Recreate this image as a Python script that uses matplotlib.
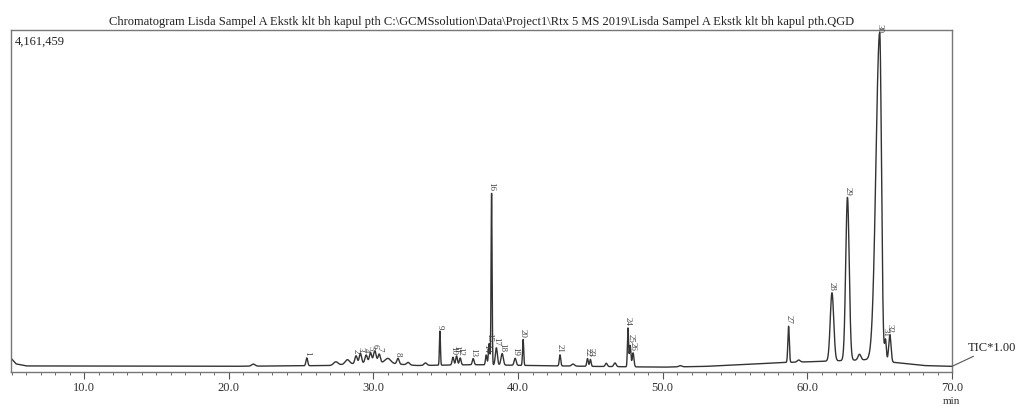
import numpy as np
import matplotlib
matplotlib.use('Agg')
import matplotlib.pyplot as plt
from matplotlib.ticker import MultipleLocator

plt.rcParams['font.family'] = ['Liberation Serif', 'DejaVu Serif']

# ── Peak table (min, counts above baseline, width) ──
Y_MAX = 4161459
PEAK_NO = list(range(1, 33))
PEAK_RT = [25.4, 28.8, 29.1, 29.5, 29.8, 30.1, 30.4, 31.7,
           34.6, 35.5, 35.75, 36.0, 36.9, 37.8, 38.0, 38.17,
           38.5, 38.9, 39.8, 40.35, 42.9, 44.8, 45.0, 47.6,
           47.75, 47.95, 58.7, 61.7, 62.77, 65.0, 65.4, 65.7]
PEAK_H = [95e3, 95e3, 120e3, 95e3, 120e3, 140e3, 105e3, 70e3,
          415e3, 95e3, 110e3, 85e3, 75e3, 120e3, 260e3, 2090e3,
          210e3, 140e3, 85e3, 315e3, 135e3, 95e3, 85e3, 470e3,
          260e3, 170e3, 440e3, 830e3, 1985e3, 4000e3, 260e3, 330e3]
# left / right half widths (min)
PEAK_WL = [0.06, 0.08, 0.08, 0.08, 0.08, 0.09, 0.08, 0.08,
           0.035, 0.06, 0.06, 0.06, 0.06, 0.05, 0.05, 0.035,
           0.07, 0.08, 0.07, 0.04, 0.05, 0.05, 0.05, 0.04,
           0.05, 0.06, 0.05, 0.12, 0.12, 0.26, 0.06, 0.08]
PEAK_WR = [0.06, 0.08, 0.08, 0.08, 0.08, 0.09, 0.08, 0.08,
           0.035, 0.06, 0.06, 0.06, 0.06, 0.05, 0.05, 0.035,
           0.07, 0.08, 0.07, 0.04, 0.05, 0.05, 0.05, 0.04,
           0.05, 0.06, 0.05, 0.12, 0.12, 0.12, 0.06, 0.08]

# unlabeled small bumps
BUMP_RT = [21.7, 27.4, 28.2, 31.0, 32.4, 33.6, 43.8, 46.1, 46.7, 51.2, 59.4, 63.6]
BUMP_H = [25e3, 40e3, 55e3, 60e3, 30e3, 30e3, 25e3, 40e3, 45e3, 15e3, 25e3, 70e3]
BUMP_W = [0.12, 0.15, 0.15, 0.2, 0.1, 0.1, 0.1, 0.07, 0.08, 0.1, 0.1, 0.1]

# baseline level (time, counts)
BASE_T = [4.95, 5.3, 6.0, 20.0, 27.0, 30.0, 33.0, 37.0, 45.0, 50.0, 53.0,
          56.0, 58.0, 60.0, 64.0, 66.5, 68.0, 70.0]
BASE_Y = [170e3, 100e3, 75e3, 70e3, 80e3, 120e3, 80e3, 90e3, 70e3, 60e3, 70e3,
          95e3, 115e3, 125e3, 150e3, 110e3, 80e3, 70e3]

t = np.linspace(4.95, 70.0, 12000)
trace = np.interp(t, BASE_T, BASE_Y)
for rt, h, wl, wr in zip(PEAK_RT, PEAK_H, PEAK_WL, PEAK_WR):
    w = np.where(t < rt, wl, wr)
    trace += h * np.exp(-0.5 * ((t - rt) / w) ** 2)
for rt, h, w in zip(BUMP_RT, BUMP_H, BUMP_W):
    trace += h * np.exp(-0.5 * ((t - rt) / w) ** 2)

fig = plt.figure(figsize=(10.19, 4.08), dpi=100)
ax = fig.add_axes([0.0108, 0.088, 0.9235, 0.838])
ax.plot(t, trace, color='#333333', lw=1.0)
ax.set_xlim(4.95, 70.0)
ax.set_ylim(0, Y_MAX)

for spine in ax.spines.values():
    spine.set_color('#777777')
    spine.set_linewidth(1.0)
ax.set_yticks([])
ax.xaxis.set_minor_locator(MultipleLocator(1))
ax.set_xticks(np.arange(10, 71, 10))
ax.set_xticklabels([f"{v:.1f}" for v in np.arange(10, 71, 10)])
ax.tick_params(axis='x', which='major', direction='out', length=5,
               color='#555555', labelsize=9, labelcolor='#333333', pad=2)
ax.tick_params(axis='x', which='minor', direction='out', length=2.5,
               color='#555555')

# peak number labels, just above the trace at each retention time
for no, rt in zip(PEAK_NO, PEAK_RT):
    i = np.argmin(np.abs(t - rt))
    top = min(trace[i], Y_MAX * 0.985)
    ax.text(rt, top + 25e3, str(no), rotation=270, ha='center', va='bottom',
            fontsize=6.5, color='#444444')

ax.text(0.004, 0.985, "4,161,459", transform=ax.transAxes, ha='left', va='top',
        fontsize=9, color='#222222')

ax.set_title(r"Chromatogram Lisda Sampel A Ekstk klt bh kapul pth C:\GCMSsolution\Data\Project1\Rtx 5 MS 2019\Lisda Sampel A Ekstk klt bh kapul pth.QGD",
             fontsize=9, color='#222222', pad=4)

# TIC label with leader line
ax.annotate("TIC*1.00", xy=(70.0, trace[-1]), xycoords='data',
            xytext=(71.1, trace[-1] + 0.055 * Y_MAX), textcoords='data',
            fontsize=9, color='#222222', va='center', ha='left',
            arrowprops=dict(arrowstyle='-', color='#555555', lw=0.8,
                            shrinkA=0, shrinkB=0),
            annotation_clip=False)

fig.text(0.925, 0.005, "min", fontsize=8, color='#333333', ha='left', va='bottom')

fig.savefig("out.png", dpi=100)
